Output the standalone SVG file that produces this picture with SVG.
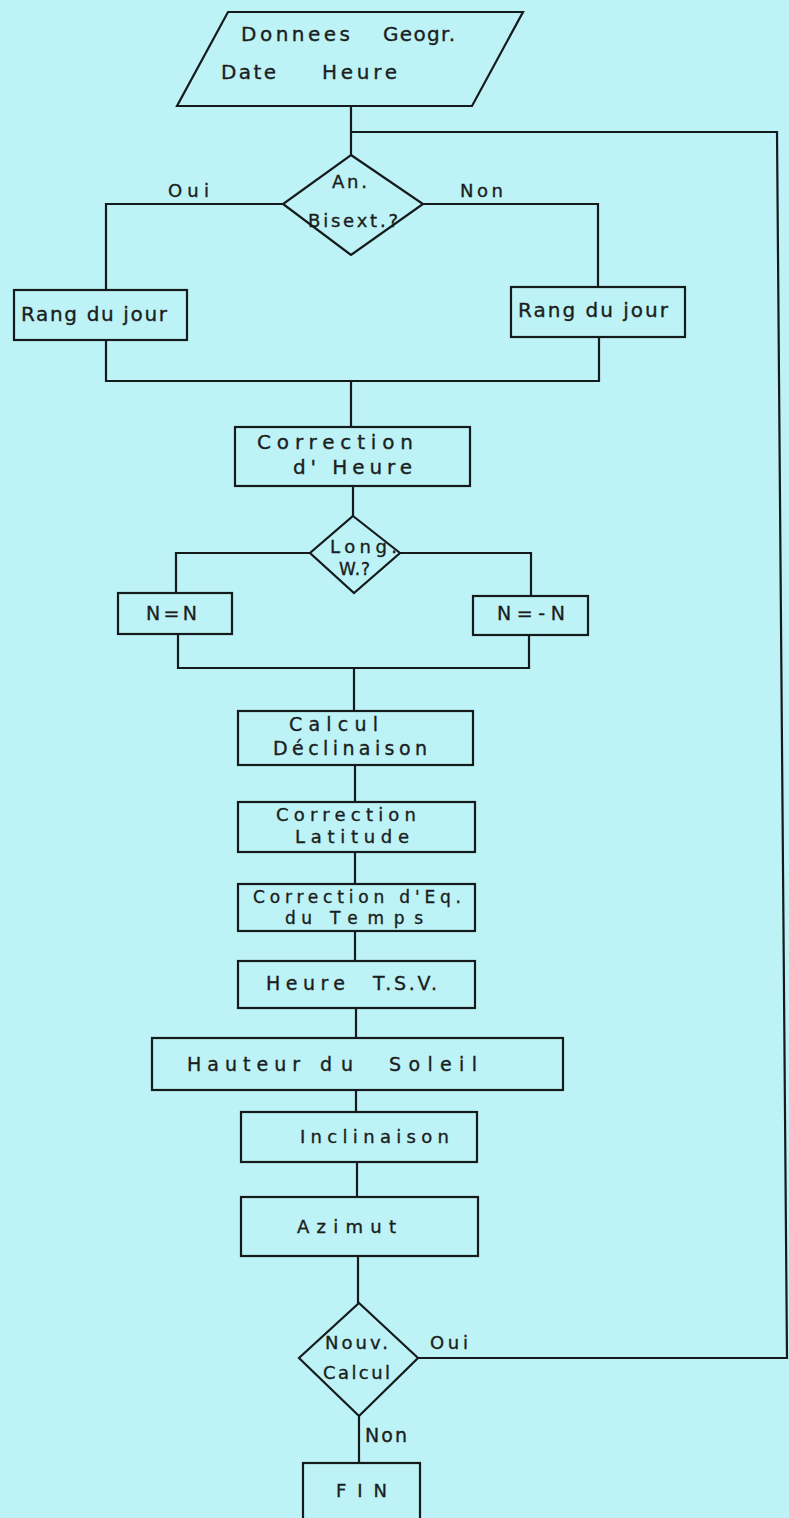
<svg xmlns="http://www.w3.org/2000/svg" width="789" height="1518" viewBox="0 0 789 1518">
<style>
.s{fill:none;stroke:#151a1c;stroke-width:2.2;stroke-linejoin:miter}
.n{fill:none;stroke:#151a1c;stroke-width:2.2}
text{font-family:"DejaVu Sans","Liberation Sans",Arial,sans-serif;fill:#1a1e20;stroke:#1a1e20;stroke-width:0.35;font-size:19px}
.f17{font-size:17px}
.f18{font-size:18px}
.f20{font-size:20px}
</style>
<rect width="789" height="1518" fill="#bdf3f6"/>
<g id="connectors">
<polyline class="s" points="351,106 351,155"/>
<polyline class="s" points="351,132 777,132 787,1358 418,1358"/>
<polyline class="s" points="283,204 106,204 106,290"/>
<polyline class="s" points="423,204 598,204 598,287"/>
<polyline class="s" points="106,340 106,381 599,381 599,337"/>
<polyline class="s" points="351,381 351,427"/>
<polyline class="s" points="353,486 353,516"/>
<polyline class="s" points="310,553 176,553 176,593"/>
<polyline class="s" points="400,553 531,553 531,596"/>
<polyline class="s" points="178,634 178,668 529,668 529,635"/>
<polyline class="s" points="354,668 354,711"/>
<polyline class="s" points="355,765 355,802"/>
<polyline class="s" points="355,852 355,884"/>
<polyline class="s" points="355,931 355,961"/>
<polyline class="s" points="356,1008 356,1038"/>
<polyline class="s" points="356,1090 356,1112"/>
<polyline class="s" points="357,1162 357,1197"/>
<polyline class="s" points="358,1256 358,1303"/>
<polyline class="s" points="359,1416 359,1463"/>
<text class="f18" x="168" y="197" textLength="41" lengthAdjust="spacing">Oui</text>
<text class="f18" x="460" y="197" textLength="43" lengthAdjust="spacing">Non</text>
<text class="f18" x="430" y="1349" textLength="38" lengthAdjust="spacing">Oui</text>
<text x="365" y="1442" textLength="42" lengthAdjust="spacing">Non</text>
</g>
<g id="input">
<polygon class="n" points="228,12 523,12 472,106 177,106"/>
<text class="f20" y="41"><tspan x="241" textLength="109" lengthAdjust="spacing">Donnees</tspan><tspan x="383" textLength="72" lengthAdjust="spacing">Geogr.</tspan></text>
<text class="f20" y="79"><tspan x="221" textLength="55" lengthAdjust="spacing">Date</tspan><tspan x="322" textLength="75" lengthAdjust="spacing">Heure</tspan></text>
</g>
<g id="bisext">
<polygon class="n" points="351,155 423,204 351,255 283,204"/>
<text class="f18" x="332" y="188" textLength="35" lengthAdjust="spacing">An.</text>
<text class="f18" x="308" y="227" textLength="90" lengthAdjust="spacing">Bisext.?</text>
</g>
<g id="rang-oui">
<rect class="n" x="14" y="290" width="173" height="50"/>
<text class="f20" x="21" y="321" textLength="146" lengthAdjust="spacing">Rang du jour</text>
</g>
<g id="rang-non">
<rect class="n" x="511" y="287" width="174" height="50"/>
<text class="f20" x="518" y="317" textLength="150" lengthAdjust="spacing">Rang du jour</text>
</g>
<g id="corr-heure">
<rect class="n" x="235" y="427" width="235" height="59"/>
<text class="f20" x="257" y="449" textLength="156" lengthAdjust="spacing">Correction</text>
<text class="f20" x="293" y="474" textLength="119" lengthAdjust="spacing">d' Heure</text>
</g>
<g id="longw">
<polygon class="n" points="353,516 400,553 354,593 310,553"/>
<text class="f18" x="330" y="553" textLength="67" lengthAdjust="spacing">Long.</text>
<text class="f17" x="339" y="575" textLength="31" lengthAdjust="spacing">W.?</text>
</g>
<g id="n-pos">
<rect class="n" x="118" y="593" width="114" height="41"/>
<text x="146" y="620" textLength="51" lengthAdjust="spacing">N=N</text>
</g>
<g id="n-neg">
<rect class="n" x="473" y="596" width="115" height="39"/>
<text x="497" y="620" textLength="68" lengthAdjust="spacing">N=-N</text>
</g>
<g id="declinaison">
<rect class="n" x="238" y="711" width="235" height="54"/>
<text x="289" y="731" textLength="89" lengthAdjust="spacing">Calcul</text>
<text x="273" y="755" textLength="154" lengthAdjust="spacing">Déclinaison</text>
</g>
<g id="latitude">
<rect class="n" x="238" y="802" width="237" height="50"/>
<text class="f18" x="276" y="821" textLength="140" lengthAdjust="spacing">Correction</text>
<text class="f18" x="295" y="843" textLength="114" lengthAdjust="spacing">Latitude</text>
</g>
<g id="eq-temps">
<rect class="n" x="238" y="884" width="237" height="47"/>
<text class="f17" x="253" y="903" textLength="208" lengthAdjust="spacing">Correction d'Eq.</text>
<text class="f17" y="924"><tspan x="285" textLength="27" lengthAdjust="spacing">du</tspan><tspan x="330" textLength="93" lengthAdjust="spacing">Temps</tspan></text>
</g>
<g id="tsv">
<rect class="n" x="238" y="961" width="237" height="47"/>
<text y="990"><tspan x="266" textLength="79" lengthAdjust="spacing">Heure</tspan><tspan x="373" textLength="64" lengthAdjust="spacing">T.S.V.</tspan></text>
</g>
<g id="hauteur">
<rect class="n" x="152" y="1038" width="411" height="52"/>
<text y="1071"><tspan x="187" textLength="113" lengthAdjust="spacing">Hauteur</tspan><tspan x="320" textLength="33" lengthAdjust="spacing">du</tspan><tspan x="389" textLength="88" lengthAdjust="spacing">Soleil</tspan></text>
</g>
<g id="inclinaison">
<rect class="n" x="241" y="1112" width="236" height="50"/>
<text class="f18" x="300" y="1143" textLength="149" lengthAdjust="spacing">Inclinaison</text>
</g>
<g id="azimut">
<rect class="n" x="241" y="1197" width="237" height="59"/>
<text class="f18" x="297" y="1233" textLength="99" lengthAdjust="spacing">Azimut</text>
</g>
<g id="nouv-calcul">
<polygon class="n" points="359,1303 418,1358 359,1416 299,1358"/>
<text class="f18" x="325" y="1349" textLength="63" lengthAdjust="spacing">Nouv.</text>
<text class="f18" x="323" y="1379" textLength="67" lengthAdjust="spacing">Calcul</text>
</g>
<g id="fin">
<rect class="n" x="303" y="1463" width="117" height="62"/>
<text class="f18" x="336" y="1497" textLength="51" lengthAdjust="spacing">FIN</text>
</g>
</svg>
